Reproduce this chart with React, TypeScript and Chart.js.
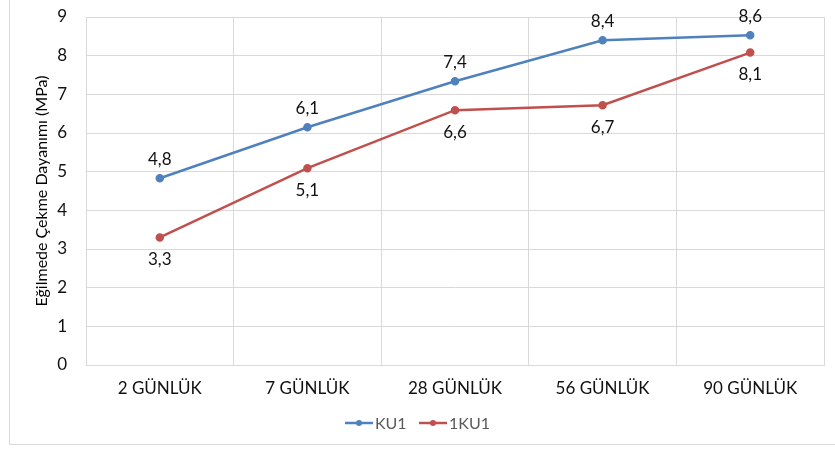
import React, { useEffect, useRef } from "react";
import { Chart, registerables } from "chart.js";

Chart.register(...registerables);

const categories = ["2 GÜNLÜK", "7 GÜNLÜK", "28 GÜNLÜK", "56 GÜNLÜK", "90 GÜNLÜK"];
const ku1Values = [4.83, 6.15, 7.34, 8.4, 8.53];
const ku1Labels = ["4,8", "6,1", "7,4", "8,4", "8,6"];
const oneKu1Values = [3.3, 5.09, 6.59, 6.72, 8.08];
const oneKu1Labels = ["3,3", "5,1", "6,6", "6,7", "8,1"];
const yTicks = [0, 1, 2, 3, 4, 5, 6, 7, 8, 9];

const BLUE = "#4F81BD";
const RED = "#C0504D";
const FONT = "Lato, 'Open Sans', sans-serif";

const dataLabelPlugin = {
  id: "dataLabels",
  afterDatasetsDraw(chart: any) {
    const ctx = chart.ctx;
    ctx.save();
    ctx.font = `17px ${FONT}`;
    ctx.fillStyle = "#111111";
    ctx.textAlign = "center";
    ctx.textBaseline = "middle";
    chart.data.datasets.forEach((ds: any, di: number) => {
      const meta = chart.getDatasetMeta(di);
      const labels = di === 0 ? ku1Labels : oneKu1Labels;
      meta.data.forEach((pt: any, i: number) => {
        const dy = di === 0 ? -19 : 22;
        ctx.fillText(labels[i], pt.x, pt.y + dy);
      });
    });
    ctx.restore();
  },
};

const legendPlugin = {
  id: "customLegend",
  afterDraw(chart: any) {
    const ctx = chart.ctx;
    ctx.save();
    const y = 423;
    const items = [
      { color: BLUE, text: "KU1", x: 345 },
      { color: RED, text: "1KU1", x: 419 },
    ];
    ctx.font = `16px ${FONT}`;
    ctx.textBaseline = "middle";
    ctx.textAlign = "left";
    items.forEach((it) => {
      ctx.strokeStyle = it.color;
      ctx.lineWidth = 2.5;
      ctx.beginPath();
      ctx.moveTo(it.x, y);
      ctx.lineTo(it.x + 28, y);
      ctx.stroke();
      ctx.fillStyle = it.color;
      ctx.beginPath();
      ctx.arc(it.x + 14, y, 3, 0, Math.PI * 2);
      ctx.fill();
      ctx.fillStyle = "#595959";
      ctx.fillText(it.text, it.x + 30, y + 1);
    });
    ctx.restore();
  },
};

export default function App() {
  const ref = useRef<HTMLCanvasElement | null>(null);
  useEffect(() => {
    if (!ref.current) return;
    const chart = new Chart(ref.current, {
      type: "line",
      data: {
        labels: categories,
        datasets: [
          {
            label: "KU1",
            data: ku1Values,
            borderColor: BLUE,
            backgroundColor: BLUE,
            borderWidth: 2.5,
            pointRadius: 3,
            pointHoverRadius: 3,
            tension: 0,
          },
          {
            label: "1KU1",
            data: oneKu1Values,
            borderColor: RED,
            backgroundColor: RED,
            borderWidth: 2.5,
            pointRadius: 3,
            pointHoverRadius: 3,
            tension: 0,
          },
        ],
      },
      options: {
        responsive: false,
        animation: false,
        layout: { padding: { top: 17, right: 11, left: 0, bottom: 0 } },
        plugins: {
          legend: { display: false },
          tooltip: { enabled: false },
        },
        scales: {
          x: {
            offset: true,
            grid: { offset: true, color: "#d9d9d9", drawTicks: false },
            border: { color: "#d9d9d9" },
            ticks: {
              color: "#111111",
              font: { family: FONT, size: 17 },
              padding: 13,
              maxRotation: 0,
            },
            afterFit: (scale: any) => {
              scale.height = 85;
            },
          },
          y: {
            min: 0,
            max: 9,
            afterBuildTicks: (scale: any) => {
              scale.ticks = yTicks.map((v) => ({ value: v }));
            },
            grid: { color: "#d9d9d9", drawTicks: true, tickLength: 19, tickColor: "rgba(0,0,0,0)" },
            border: { color: "#d9d9d9" },
            ticks: {
              color: "#111111",
              font: { family: FONT, size: 17 },
              padding: 0,
            },
            title: {
              display: true,
              text: "Eğilmede Çekme Dayanımı (MPa)",
              color: "#000000",
              font: { family: FONT, size: 16 },
              padding: { top: 32, bottom: 0 },
            },
            afterFit: (scale: any) => {
              scale.width = 86;
            },
          },
        },
      },
      plugins: [dataLabelPlugin, legendPlugin],
    });
    return () => chart.destroy();
  }, []);

  return (
    <div style={{ position: "fixed", left: 0, top: 0, width: 835, height: 450, background: "#fff" }}>
      <div
        style={{
          position: "absolute",
          left: 9,
          top: -2,
          width: 840,
          height: 447,
          border: "1px solid #d9d9d9",
          boxSizing: "border-box",
        }}
      />
      <canvas ref={ref} width={835} height={450} style={{ position: "absolute", left: 0, top: 0 }} />
    </div>
  );
}
